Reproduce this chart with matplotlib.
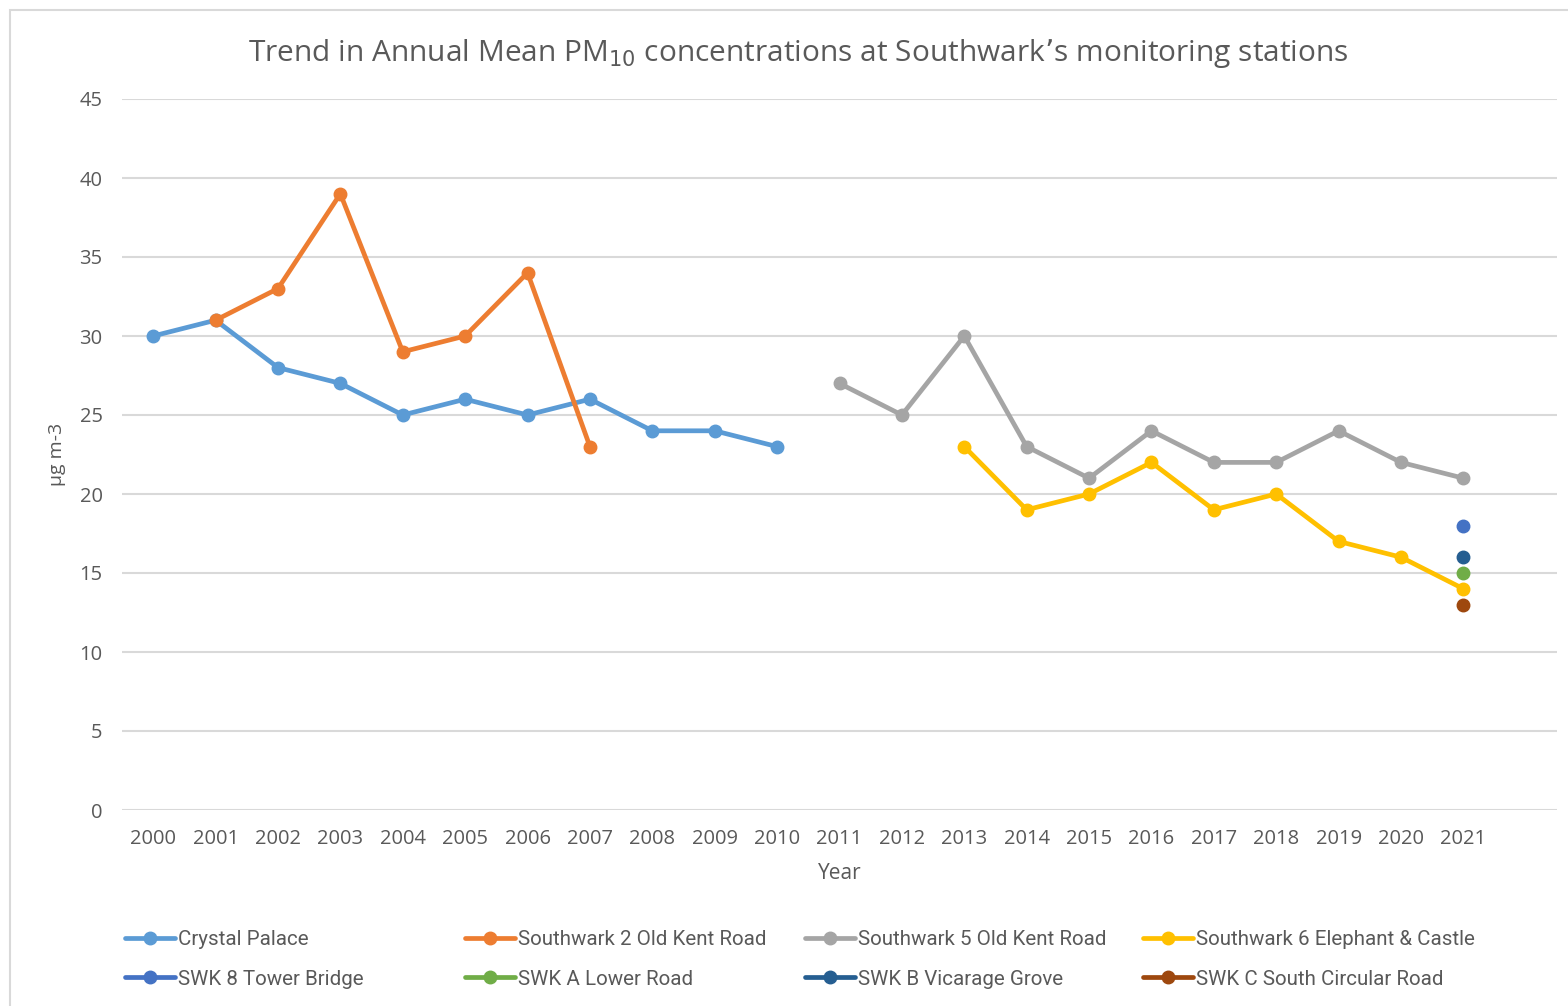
import matplotlib
matplotlib.use("Agg")
import matplotlib.pyplot as plt
from matplotlib.patches import Rectangle
import numpy as np

years = list(range(2000, 2022))
year_labels = [str(y) for y in years]

crystal_palace_years = [2000, 2001, 2002, 2003, 2004, 2005, 2006, 2007, 2008, 2009, 2010]
crystal_palace = [30, 31, 28, 27, 25, 26, 25, 26, 24, 24, 23]

swk2_years = [2001, 2002, 2003, 2004, 2005, 2006, 2007]
swk2 = [31, 33, 39, 29, 30, 34, 23]

swk5_years = [2011, 2012, 2013, 2014, 2015, 2016, 2017, 2018, 2019, 2020, 2021]
swk5 = [27, 25, 30, 23, 21, 24, 22, 22, 24, 22, 21]

swk6_years = [2013, 2014, 2015, 2016, 2017, 2018, 2019, 2020, 2021]
swk6 = [23, 19, 20, 22, 19, 20, 17, 16, 14]

swk8_years = [2021]
swk8 = [18]
swka_years = [2021]
swka = [15]
swkb_years = [2021]
swkb = [16]
swkc_years = [2021]
swkc = [13]

series = [
    ("Crystal Palace", crystal_palace_years, crystal_palace, "#5B9BD5"),
    ("Southwark 2 Old Kent Road", swk2_years, swk2, "#ED7D31"),
    ("Southwark 5 Old Kent Road", swk5_years, swk5, "#A5A5A5"),
    ("Southwark 6 Elephant & Castle", swk6_years, swk6, "#FFC000"),
    ("SWK 8 Tower Bridge", swk8_years, swk8, "#4472C4"),
    ("SWK A Lower Road", swka_years, swka, "#70AD47"),
    ("SWK B Vicarage Grove", swkb_years, swkb, "#255E91"),
    ("SWK C South Circular Road", swkc_years, swkc, "#9E480E"),
]

W, H = 1568, 1006
fig = plt.figure(figsize=(W / 100, H / 100), dpi=100)
fig.patch.set_facecolor("white")

# outer chart border
fig.add_artist(Rectangle((10 / W, -0.05), 1.2, 1 - 10 / H + 0.05,
                         transform=fig.transFigure, fill=False,
                         edgecolor="#D9D9D9", linewidth=1.5))

ax = fig.add_axes([122 / W, 1 - 810 / H, (1557 - 122) / W, (810 - 99) / H])
ax.set_facecolor("none")

tick_font = ["Open Sans", "DejaVu Sans"]
leg_font = ["Roboto", "DejaVu Sans"]
txt_col = "#595959"

handles = []
for name, xs, ys, col in series:
    xi = [years.index(x) for x in xs]
    h, = ax.plot(xi, ys, color=col, linewidth=3.4, marker="o", markersize=9,
                 solid_capstyle="round", label=name, zorder=3)
    handles.append(h)

ax.set_xlim(-0.5, len(years) + 0.5)
ax.set_ylim(0, 45)
ax.set_yticks(np.arange(0, 50, 5))
ax.set_xticks(range(len(years)))
ax.set_xticklabels(year_labels)
ax.grid(axis="y", color="#D9D9D9", linewidth=1.5, zorder=0)
ax.set_axisbelow(True)
for s in ax.spines.values():
    s.set_visible(False)
ax.tick_params(axis="both", length=0, colors=txt_col, labelsize=14.5)
ax.tick_params(axis="y", pad=14)
ax.tick_params(axis="x", pad=14)
for lab in ax.get_xticklabels() + ax.get_yticklabels():
    lab.set_fontfamily(tick_font)

ax.set_xlabel("Year", fontsize=15, color=txt_col, family=tick_font, labelpad=10)
ax.set_ylabel("µg m-3", fontsize=14, color=txt_col, family=tick_font, labelpad=10)

fig.text(798 / W, 1 - 53 / H,
         "Trend in Annual Mean PM$_{10}$ concentrations at Southwark\u2019s monitoring stations",
         ha="center", va="center", fontsize=21.5, color=txt_col, family=tick_font)

col_x = [125, 465, 805, 1143]
for i in range(4):
    leg = fig.legend([handles[i], handles[i + 4]],
                     [series[i][0], series[i + 4][0]],
                     loc="upper left", bbox_to_anchor=(col_x[i] / W, 1 - 930 / H),
                     frameon=False, handlelength=2.45, handletextpad=0.15,
                     labelspacing=1.0, borderpad=0, borderaxespad=0,
                     prop={"family": leg_font, "size": 14.8})
    for t in leg.get_texts():
        t.set_color(txt_col)

fig.savefig("out.png", dpi=100, facecolor="white")
